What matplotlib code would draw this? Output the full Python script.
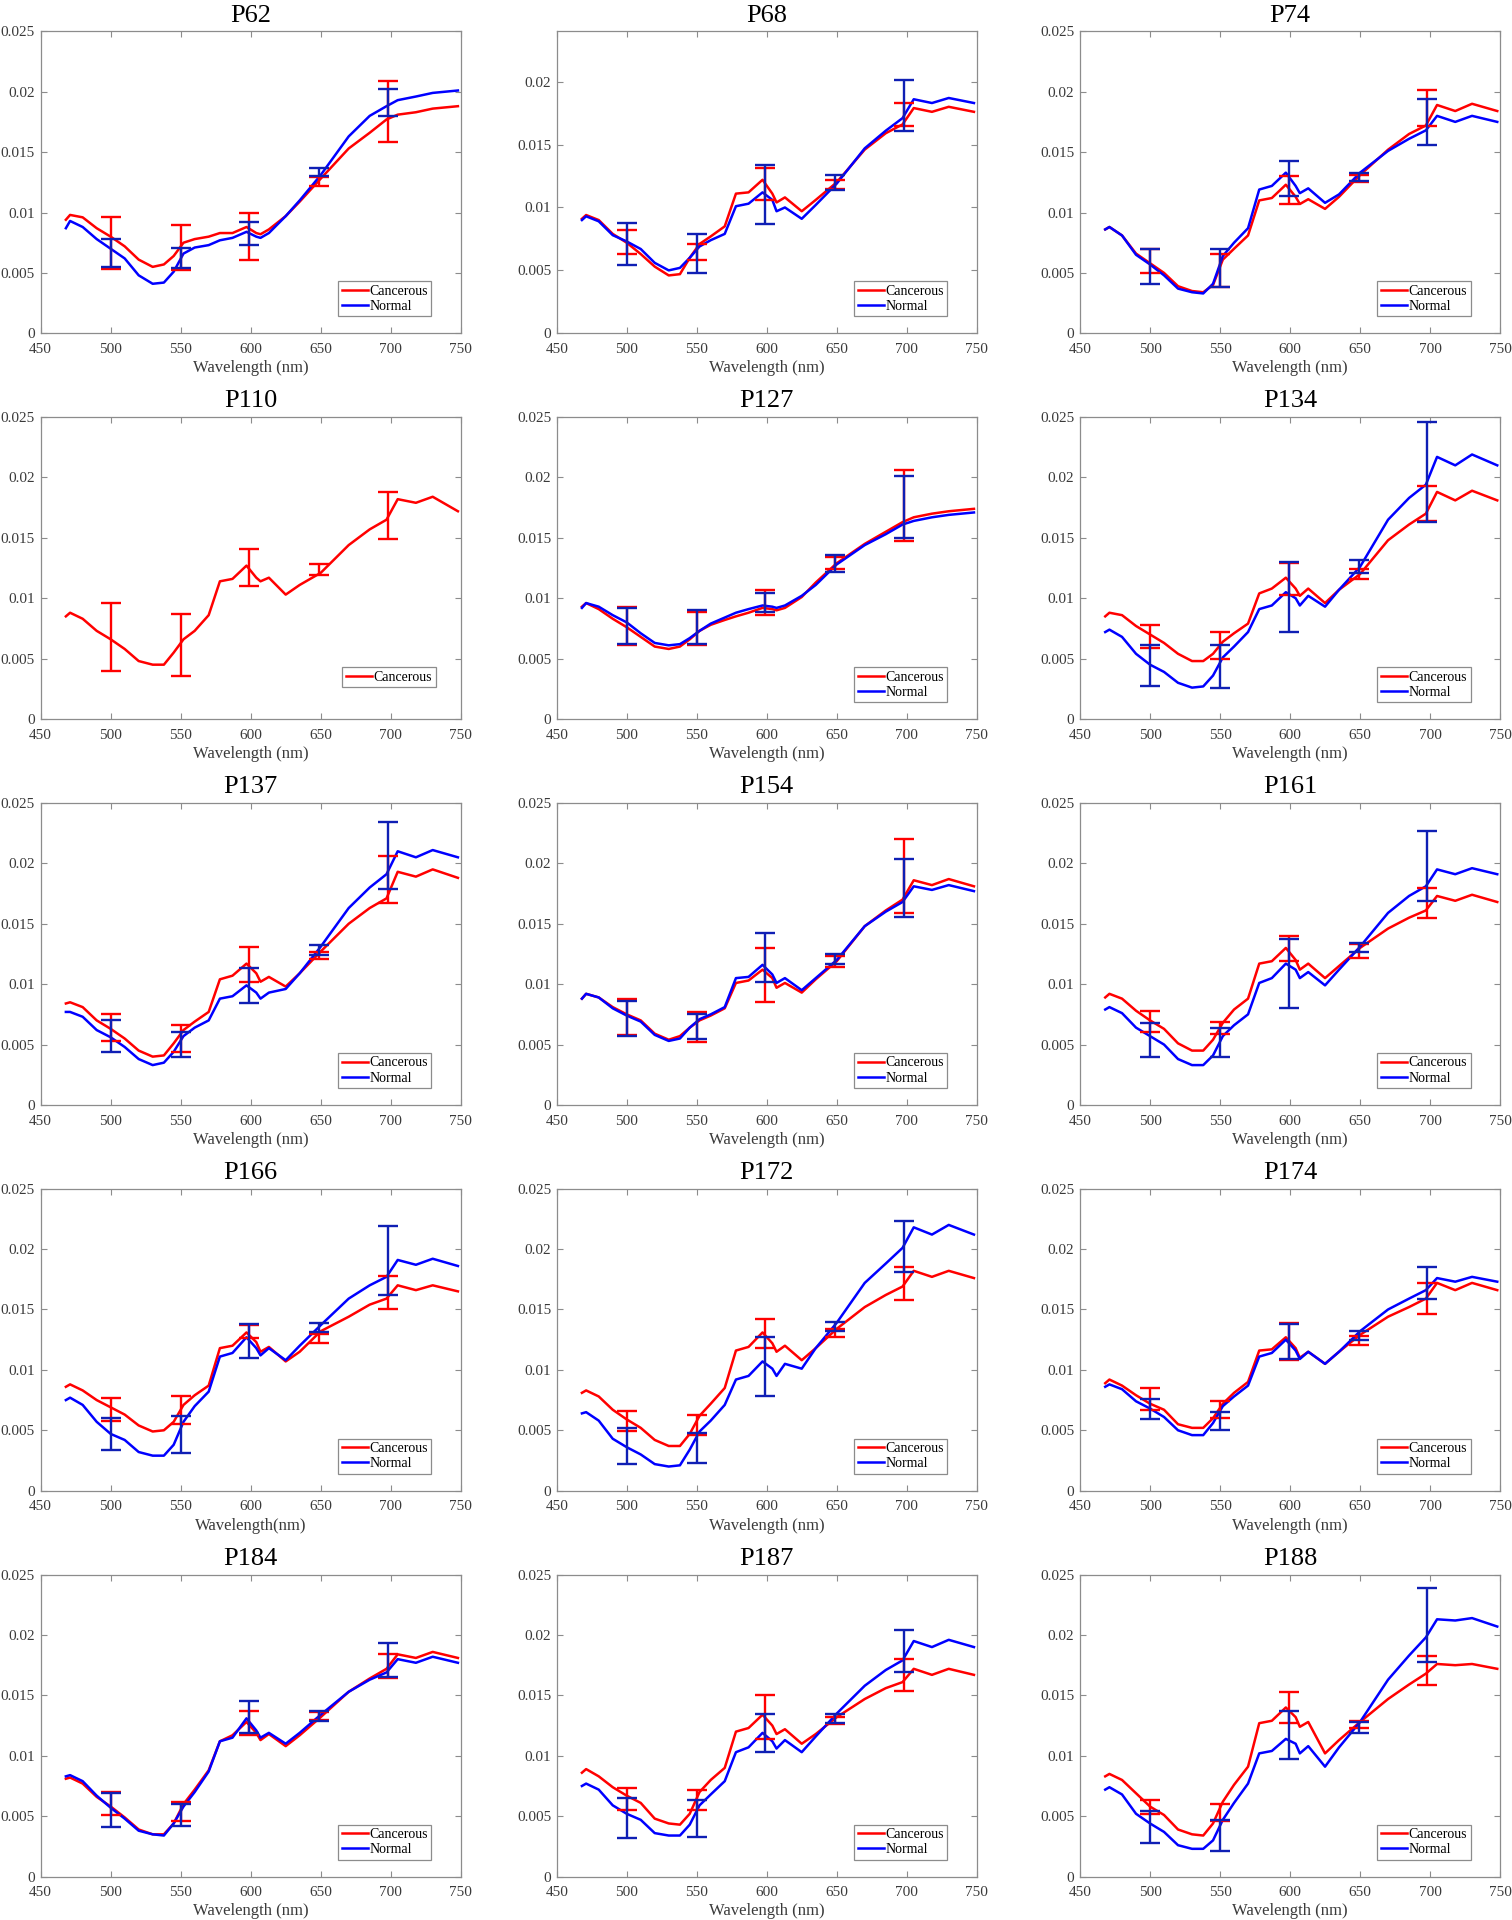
import numpy as np
import matplotlib
matplotlib.use("Agg")
import matplotlib.pyplot as plt

plt.rcParams['font.family'] = ['Liberation Serif', 'DejaVu Serif']

# wavelength grid (nm) and error bar positions
wl = [468, 471, 480, 490, 500, 510, 520, 530, 538, 545, 552, 560, 570, 578, 587,
      597, 604, 607, 613, 625, 635, 650, 670, 685, 697, 705, 718, 730, 748]
bar_wl = [500, 550, 599, 649, 698]

# values in units of 1e-3
P62_C = [9.4, 9.8, 9.6, 8.7, 8.0, 7.2, 6.1, 5.5, 5.7, 6.4, 7.5, 7.8, 8.0, 8.3, 8.3, 8.8, 8.3, 8.2, 8.6, 9.7, 10.9, 12.8, 15.3, 16.6, 17.7, 18.1, 18.3, 18.6, 18.8]
P62_N = [8.7, 9.3, 8.8, 7.8, 7.0, 6.2, 4.8, 4.1, 4.2, 5.1, 6.6, 7.1, 7.3, 7.7, 7.9, 8.4, 8.0, 7.9, 8.3, 9.7, 11.0, 13.1, 16.3, 18.0, 18.8, 19.3, 19.6, 19.9, 20.1]
P62_C_LO = [5.3, 5.2, 6.1, 12.2, 15.8]
P62_C_HI = [9.6, 9.0, 10.0, 12.9, 20.9]
P62_N_LO = [5.5, 5.4, 7.3, 13.0, 18.0]
P62_N_HI = [7.8, 7.1, 9.2, 13.7, 20.2]

P68_C = [9.1, 9.4, 9.0, 7.9, 7.2, 6.3, 5.3, 4.6, 4.7, 6.0, 7.1, 7.7, 8.5, 11.1, 11.2, 12.2, 11.1, 10.4, 10.8, 9.7, 10.6, 12.0, 14.6, 15.9, 16.6, 17.9, 17.6, 18.0, 17.6]
P68_N = [9.0, 9.3, 8.9, 7.8, 7.3, 6.7, 5.6, 5.0, 5.2, 6.0, 6.9, 7.4, 7.9, 10.1, 10.3, 11.2, 10.6, 9.7, 10.0, 9.1, 10.2, 11.9, 14.7, 16.1, 17.1, 18.6, 18.3, 18.7, 18.3]
P68_C_LO = [6.3, 5.8, 10.6, 11.5, 16.5]
P68_C_HI = [8.2, 7.1, 13.1, 12.2, 18.3]
P68_N_LO = [5.4, 4.8, 8.7, 11.4, 16.1]
P68_N_HI = [8.8, 7.9, 13.4, 12.6, 20.1]

P74_C = [8.6, 8.8, 8.1, 6.6, 5.8, 5.0, 3.9, 3.5, 3.4, 4.0, 6.1, 7.0, 8.1, 11.0, 11.2, 12.3, 11.3, 10.7, 11.1, 10.3, 11.3, 13.1, 15.2, 16.5, 17.2, 18.9, 18.4, 19.0, 18.4]
P74_N = [8.6, 8.8, 8.1, 6.5, 5.7, 4.8, 3.7, 3.4, 3.3, 4.1, 6.4, 7.5, 8.7, 11.9, 12.2, 13.3, 12.2, 11.6, 12.0, 10.8, 11.5, 13.3, 15.1, 16.1, 16.8, 18.0, 17.5, 18.0, 17.5]
P74_C_LO = [5.0, 3.8, 10.7, 12.5, 17.2]
P74_C_HI = [7.0, 6.6, 13.0, 13.1, 20.1]
P74_N_LO = [4.1, 3.8, 11.4, 12.6, 15.6]
P74_N_HI = [7.0, 7.0, 14.3, 13.3, 19.4]

P110_C = [8.5, 8.8, 8.3, 7.3, 6.6, 5.8, 4.8, 4.5, 4.5, 5.5, 6.6, 7.3, 8.6, 11.4, 11.6, 12.7, 11.7, 11.4, 11.7, 10.3, 11.1, 12.1, 14.4, 15.7, 16.5, 18.2, 17.9, 18.4, 17.2]
P110_C_LO = [4.0, 3.6, 11.0, 11.9, 14.9]
P110_C_HI = [9.6, 8.7, 14.1, 12.8, 18.8]

P127_C = [9.3, 9.6, 9.1, 8.3, 7.6, 6.8, 6.0, 5.8, 6.0, 6.6, 7.3, 7.8, 8.2, 8.5, 8.8, 9.2, 9.1, 9.0, 9.2, 10.1, 11.3, 12.9, 14.5, 15.5, 16.3, 16.7, 17.0, 17.2, 17.4]
P127_N = [9.2, 9.6, 9.3, 8.6, 8.0, 7.1, 6.3, 6.1, 6.2, 6.7, 7.3, 7.9, 8.4, 8.8, 9.1, 9.4, 9.3, 9.2, 9.4, 10.2, 11.1, 12.8, 14.4, 15.3, 16.1, 16.4, 16.7, 16.9, 17.1]
P127_C_LO = [6.1, 6.1, 8.6, 12.4, 14.7]
P127_C_HI = [9.3, 8.9, 10.7, 13.4, 20.6]
P127_N_LO = [6.2, 6.2, 8.9, 12.2, 15.0]
P127_N_HI = [9.2, 9.0, 10.4, 13.6, 20.1]

P134_C = [8.5, 8.8, 8.6, 7.7, 7.0, 6.3, 5.4, 4.8, 4.8, 5.4, 6.4, 7.1, 7.9, 10.4, 10.8, 11.7, 10.8, 10.2, 10.8, 9.6, 10.7, 12.0, 14.8, 16.1, 17.0, 18.8, 18.1, 18.9, 18.1]
P134_N = [7.2, 7.4, 6.8, 5.4, 4.5, 3.9, 3.0, 2.6, 2.7, 3.6, 5.1, 6.0, 7.2, 9.1, 9.4, 10.5, 10.0, 9.4, 10.2, 9.3, 10.7, 12.6, 16.5, 18.3, 19.4, 21.7, 21.0, 21.9, 21.0]
P134_C_LO = [5.9, 5.0, 10.3, 11.6, 16.4]
P134_C_HI = [7.8, 7.2, 12.9, 12.4, 19.3]
P134_N_LO = [2.7, 2.6, 7.2, 12.1, 16.3]
P134_N_HI = [6.1, 6.1, 13.0, 13.2, 24.6]

P137_C = [8.4, 8.5, 8.1, 7.0, 6.3, 5.5, 4.5, 4.0, 4.1, 5.1, 6.2, 6.9, 7.7, 10.4, 10.7, 11.7, 10.9, 10.2, 10.6, 9.8, 10.9, 12.7, 15.0, 16.3, 17.1, 19.3, 18.9, 19.5, 18.8]
P137_N = [7.7, 7.7, 7.3, 6.2, 5.6, 4.8, 3.8, 3.3, 3.5, 4.4, 5.7, 6.4, 7.0, 8.8, 9.0, 9.9, 9.3, 8.8, 9.3, 9.6, 10.9, 13.1, 16.3, 18.0, 19.1, 21.0, 20.5, 21.1, 20.5]
P137_C_LO = [5.3, 4.4, 10.2, 12.1, 16.7]
P137_C_HI = [7.5, 6.6, 13.1, 12.7, 20.6]
P137_N_LO = [4.4, 4.0, 8.4, 12.4, 17.9]
P137_N_HI = [7.0, 6.0, 11.3, 13.2, 23.4]

P154_C = [8.8, 9.2, 8.9, 8.1, 7.5, 7.0, 5.9, 5.4, 5.7, 6.4, 7.0, 7.4, 8.0, 10.1, 10.3, 11.2, 10.5, 9.7, 10.1, 9.3, 10.4, 11.9, 14.8, 16.1, 17.0, 18.6, 18.2, 18.7, 18.1]
P154_N = [8.8, 9.2, 8.9, 8.0, 7.4, 6.9, 5.8, 5.3, 5.5, 6.4, 7.1, 7.5, 8.1, 10.5, 10.6, 11.6, 10.8, 10.1, 10.5, 9.5, 10.5, 12.0, 14.8, 16.0, 16.8, 18.1, 17.8, 18.2, 17.7]
P154_C_LO = [5.8, 5.2, 8.5, 11.4, 15.9]
P154_C_HI = [8.8, 7.7, 13.0, 12.3, 22.0]
P154_N_LO = [5.7, 5.5, 10.2, 11.7, 15.6]
P154_N_HI = [8.6, 7.5, 14.2, 12.5, 20.4]

P161_C = [8.9, 9.2, 8.8, 7.8, 7.0, 6.3, 5.1, 4.5, 4.5, 5.4, 6.8, 7.9, 8.8, 11.7, 11.9, 13.0, 12.0, 11.2, 11.7, 10.5, 11.5, 13.0, 14.6, 15.5, 16.1, 17.3, 16.9, 17.4, 16.8]
P161_N = [7.9, 8.1, 7.6, 6.4, 5.7, 5.0, 3.8, 3.3, 3.3, 4.1, 5.7, 6.6, 7.5, 10.1, 10.5, 11.7, 11.2, 10.5, 11.0, 9.9, 11.2, 13.1, 15.9, 17.3, 18.1, 19.5, 19.1, 19.6, 19.1]
P161_C_LO = [6.0, 5.9, 11.9, 12.2, 15.5]
P161_C_HI = [7.8, 6.9, 14.0, 13.3, 18.0]
P161_N_LO = [4.0, 4.0, 8.0, 12.7, 16.9]
P161_N_HI = [6.8, 6.4, 13.7, 13.4, 22.7]

P166_C = [8.6, 8.8, 8.3, 7.5, 6.9, 6.3, 5.4, 4.9, 5.0, 5.7, 7.1, 7.9, 8.7, 11.8, 12.0, 13.1, 12.3, 11.5, 11.9, 10.7, 11.5, 13.2, 14.4, 15.4, 15.9, 17.0, 16.6, 17.0, 16.5]
P166_N = [7.5, 7.7, 7.1, 5.7, 4.7, 4.2, 3.2, 2.9, 2.9, 3.8, 5.7, 7.0, 8.2, 11.1, 11.4, 12.7, 11.8, 11.2, 11.8, 10.8, 12.0, 13.7, 15.9, 17.0, 17.7, 19.1, 18.7, 19.2, 18.6]
P166_C_LO = [5.8, 5.5, 12.6, 12.2, 15.0]
P166_C_HI = [7.7, 7.8, 13.7, 13.0, 17.8]
P166_N_LO = [3.4, 3.1, 11.0, 13.1, 16.2]
P166_N_HI = [6.0, 6.2, 13.8, 13.9, 21.9]

P172_C = [8.1, 8.3, 7.8, 6.7, 5.9, 5.2, 4.2, 3.7, 3.7, 4.7, 6.2, 7.2, 8.5, 11.6, 11.9, 13.1, 12.2, 11.5, 12.0, 10.8, 11.8, 13.4, 15.2, 16.2, 16.9, 18.2, 17.7, 18.2, 17.6]
P172_N = [6.4, 6.5, 5.8, 4.3, 3.6, 3.0, 2.2, 2.0, 2.1, 3.4, 4.9, 5.8, 7.1, 9.2, 9.5, 10.7, 10.1, 9.5, 10.5, 10.1, 11.8, 13.9, 17.2, 18.8, 20.1, 21.8, 21.2, 22.0, 21.2]
P172_C_LO = [4.9, 4.6, 11.8, 12.7, 15.8]
P172_C_HI = [6.6, 6.3, 14.2, 13.4, 18.5]
P172_N_LO = [2.2, 2.3, 7.8, 13.2, 18.1]
P172_N_HI = [5.2, 4.8, 12.7, 14.0, 22.3]

P174_C = [8.9, 9.2, 8.7, 7.9, 7.2, 6.7, 5.5, 5.2, 5.2, 6.0, 7.2, 8.1, 9.0, 11.6, 11.7, 12.7, 11.8, 11.0, 11.5, 10.5, 11.5, 12.9, 14.4, 15.2, 15.9, 17.2, 16.6, 17.2, 16.6]
P174_N = [8.6, 8.8, 8.4, 7.4, 6.8, 6.1, 5.0, 4.6, 4.6, 5.6, 7.0, 7.8, 8.7, 11.1, 11.4, 12.5, 11.6, 10.9, 11.5, 10.5, 11.5, 13.2, 15.0, 15.9, 16.6, 17.6, 17.3, 17.7, 17.3]
P174_C_LO = [6.7, 6.0, 10.8, 12.1, 14.6]
P174_C_HI = [8.5, 7.4, 13.9, 12.8, 17.2]
P174_N_LO = [5.9, 5.0, 10.9, 12.5, 15.9]
P174_N_HI = [7.6, 6.5, 13.8, 13.2, 18.5]

P184_C = [8.1, 8.2, 7.7, 6.6, 5.8, 4.9, 3.9, 3.5, 3.5, 4.4, 6.0, 7.2, 8.8, 11.2, 11.7, 12.8, 11.9, 11.3, 11.8, 10.8, 11.7, 13.2, 15.3, 16.4, 17.2, 18.4, 18.1, 18.6, 18.1]
P184_N = [8.3, 8.4, 7.9, 6.7, 5.7, 4.8, 3.8, 3.5, 3.4, 4.4, 5.8, 7.0, 8.7, 11.2, 11.5, 13.1, 12.1, 11.5, 11.9, 11.0, 11.9, 13.4, 15.3, 16.3, 16.9, 18.0, 17.7, 18.2, 17.7]
P184_C_LO = [5.1, 4.6, 11.7, 13.0, 16.4]
P184_C_HI = [7.0, 6.2, 13.7, 13.6, 18.4]
P184_N_LO = [4.1, 4.2, 11.9, 12.9, 16.5]
P184_N_HI = [6.9, 6.0, 14.5, 13.7, 19.3]

P187_C = [8.6, 8.9, 8.3, 7.4, 6.7, 6.1, 4.8, 4.4, 4.3, 5.2, 7.0, 8.0, 9.0, 12.0, 12.3, 13.4, 12.5, 11.8, 12.2, 11.0, 11.8, 13.2, 14.7, 15.6, 16.1, 17.2, 16.7, 17.2, 16.7]
P187_N = [7.5, 7.7, 7.2, 5.9, 5.2, 4.7, 3.6, 3.4, 3.4, 4.3, 5.9, 6.8, 7.9, 10.3, 10.7, 11.9, 11.2, 10.6, 11.3, 10.3, 11.6, 13.5, 15.8, 17.1, 17.9, 19.5, 19.0, 19.6, 19.0]
P187_C_LO = [5.5, 5.5, 11.4, 12.6, 15.4]
P187_C_HI = [7.3, 7.2, 15.0, 13.2, 18.0]
P187_N_LO = [3.2, 3.3, 10.3, 12.7, 16.9]
P187_N_HI = [6.5, 6.3, 13.5, 13.5, 20.4]

P188_C = [8.3, 8.5, 8.0, 6.9, 5.8, 5.1, 3.9, 3.5, 3.4, 4.4, 6.2, 7.6, 9.1, 12.7, 12.9, 14.0, 13.2, 12.4, 12.8, 10.2, 11.3, 12.8, 14.7, 15.9, 16.8, 17.6, 17.5, 17.6, 17.2]
P188_N = [7.2, 7.4, 6.8, 5.2, 4.4, 3.7, 2.6, 2.3, 2.3, 3.0, 4.7, 6.1, 7.7, 10.2, 10.4, 11.4, 11.0, 10.2, 10.8, 9.1, 10.7, 12.8, 16.3, 18.3, 19.8, 21.3, 21.2, 21.4, 20.7]
P188_C_LO = [5.2, 4.6, 12.7, 12.3, 15.9]
P188_C_HI = [6.3, 6.0, 15.3, 12.9, 18.3]
P188_N_LO = [2.8, 2.1, 9.7, 11.9, 17.8]
P188_N_HI = [5.4, 4.7, 13.7, 12.8, 23.9]

panels = [
    ("P62", P62_C, P62_N, P62_C_LO, P62_C_HI, P62_N_LO, P62_N_HI),
    ("P68", P68_C, P68_N, P68_C_LO, P68_C_HI, P68_N_LO, P68_N_HI),
    ("P74", P74_C, P74_N, P74_C_LO, P74_C_HI, P74_N_LO, P74_N_HI),
    ("P110", P110_C, None, P110_C_LO, P110_C_HI, None, None),
    ("P127", P127_C, P127_N, P127_C_LO, P127_C_HI, P127_N_LO, P127_N_HI),
    ("P134", P134_C, P134_N, P134_C_LO, P134_C_HI, P134_N_LO, P134_N_HI),
    ("P137", P137_C, P137_N, P137_C_LO, P137_C_HI, P137_N_LO, P137_N_HI),
    ("P154", P154_C, P154_N, P154_C_LO, P154_C_HI, P154_N_LO, P154_N_HI),
    ("P161", P161_C, P161_N, P161_C_LO, P161_C_HI, P161_N_LO, P161_N_HI),
    ("P166", P166_C, P166_N, P166_C_LO, P166_C_HI, P166_N_LO, P166_N_HI),
    ("P172", P172_C, P172_N, P172_C_LO, P172_C_HI, P172_N_LO, P172_N_HI),
    ("P174", P174_C, P174_N, P174_C_LO, P174_C_HI, P174_N_LO, P174_N_HI),
    ("P184", P184_C, P184_N, P184_C_LO, P184_C_HI, P184_N_LO, P184_N_HI),
    ("P187", P187_C, P187_N, P187_C_LO, P187_C_HI, P187_N_LO, P187_N_HI),
    ("P188", P188_C, P188_N, P188_C_LO, P188_C_HI, P188_N_LO, P188_N_HI),
]

RED = '#ff0000'
BLUE = '#0000ff'
BAR_BLUE = '#0f1fb4'
GRAY = '#8c8c8c'
TXT = '#3a3a3a'

lefts = [0.0269, 0.3682, 0.7143]
bottoms = [0.8264, 0.6255, 0.4245, 0.2236, 0.0226]
w, h = 0.2778, 0.1573

fig = plt.figure(figsize=(15.12, 19.2), dpi=100)


def draw_bars(ax, lo, hi, color):
    lo = np.array(lo) * 1e-3
    hi = np.array(hi) * 1e-3
    mid = (lo + hi) / 2
    ax.errorbar(bar_wl, mid, yerr=(hi - lo) / 2, fmt='none', ecolor=color,
                elinewidth=1.7, capsize=7, capthick=1.7, zorder=4)


for i, (name, c, n, clo, chi, nlo, nhi) in enumerate(panels):
    r, col = divmod(i, 3)
    ax = fig.add_axes([lefts[col], bottoms[r], w, h])
    ax.plot(wl, np.array(c) * 1e-3, color=RED, lw=1.8, label='Cancerous', zorder=2,
            solid_joinstyle='round')
    if n is not None:
        ax.plot(wl, np.array(n) * 1e-3, color=BLUE, lw=1.8, label='Normal', zorder=3,
                solid_joinstyle='round')
    draw_bars(ax, clo, chi, RED)
    if n is not None:
        draw_bars(ax, nlo, nhi, BAR_BLUE)

    ax.set_xlim(450, 750)
    ax.set_xticks(range(450, 751, 50))
    if name == "P68":
        ax.set_ylim(0, 0.024)
        ax.set_yticks([0, 0.005, 0.01, 0.015, 0.02])
        ax.set_yticklabels(['0', '0.005', '0.01', '0.015', '0.02'])
    else:
        ax.set_ylim(0, 0.025)
        ax.set_yticks([0, 0.005, 0.01, 0.015, 0.02, 0.025])
        ax.set_yticklabels(['0', '0.005', '0.01', '0.015', '0.02', '0.025'])

    ax.tick_params(direction='in', top=True, right=True, length=4, width=0.8,
                   color=GRAY, labelcolor=TXT, labelsize=11)
    ax.tick_params(axis='x', pad=7)
    ax.tick_params(axis='y', pad=4)
    for s in ax.spines.values():
        s.set_color(GRAY)
        s.set_linewidth(0.9)

    ax.set_title(name, fontsize=19, pad=7, color='black')
    xl = "Wavelength(nm)" if name == "P166" else "Wavelength (nm)"
    ax.set_xlabel(xl, fontsize=12, color=TXT, labelpad=3)

    anchor_x = 0.94 if n is None else 0.93
    leg = ax.legend(loc='upper right', bbox_to_anchor=(anchor_x, 0.172), fancybox=False,
                    framealpha=1, edgecolor=GRAY, fontsize=10, handlelength=1.9,
                    handletextpad=0.1, borderpad=0.25, labelspacing=0.15,
                    borderaxespad=0)
    leg.get_frame().set_linewidth(0.9)

fig.savefig("out.png", dpi=100)
